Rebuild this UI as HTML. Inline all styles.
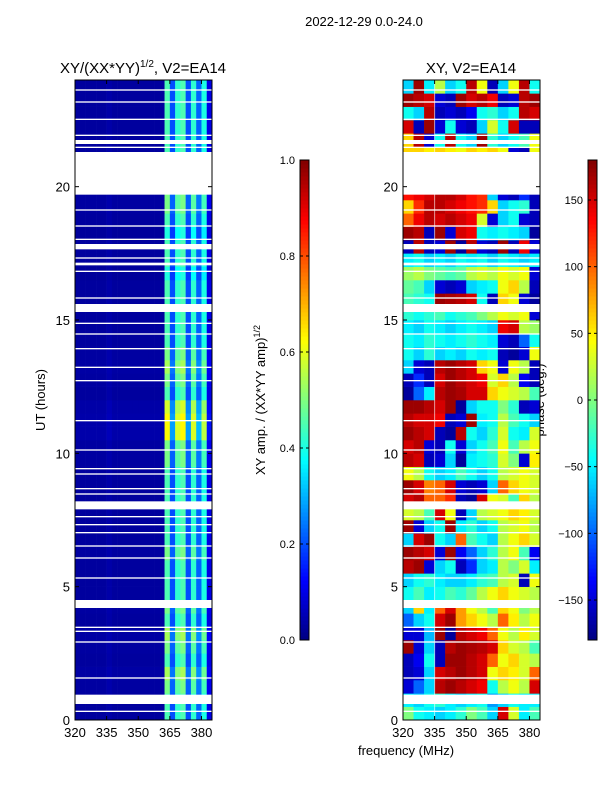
<!DOCTYPE html>
<html><head><meta charset="utf-8"><style>
body{margin:0;background:#fff;font-family:"Liberation Sans",sans-serif}
svg text{font-family:"Liberation Sans",sans-serif;fill:#000}
</style></head><body>
<svg id="s" width="600" height="800" viewBox="0 0 600 800" xmlns="http://www.w3.org/2000/svg">
<text x="364" y="26" font-size="13" text-anchor="middle">2022-12-29 0.0-24.0</text>
<text x="143" y="73" font-size="15" text-anchor="middle">XY/(XX*YY)<tspan font-size="10" dy="-6">1/2</tspan><tspan dy="6">, V2=EA14</tspan></text>
<text x="471" y="73" font-size="15" text-anchor="middle">XY, V2=EA14</text>
<text x="406" y="755" font-size="13" text-anchor="middle">frequency (MHz)</text>
<text transform="translate(45,400) rotate(-90)" font-size="13" text-anchor="middle">UT (hours)</text>
<text transform="translate(265,400) rotate(-90)" font-size="13" text-anchor="middle">XY amp. / (XX*YY amp)<tspan font-size="9" dy="-5">1/2</tspan></text>
<text transform="translate(544,400) rotate(-90)" font-size="13" text-anchor="middle">phase (deg.)</text>
<g id="L"></g>
<g id="R"></g>
<g id="A"></g>
</svg>
<script>
const freqMin=320, freqMax=385, hourMin=0, hourMax=24;
const ampFreqEdges=[320,322.5,325,327.5,330,332.5,335,337.5,340,342.5,345,347.5,350,352.5,355,357.5,360,362.5,365,367.5,370,372.5,375,377.5,380,382.5,385];
const ampProfile=[0.03,0.03,0.03,0.03,0.03,0.03,0.04,0.03,0.03,0.03,0.03,0.03,0.03,0.03,0.03,0.03,0.03,0.45,0.2,0.42,0.45,0.2,0.42,0.22,0.4,0.1];
const ampRowScale=[1,1,1.1,1.2,1,1.1,1.2,1,1.1,1,1,1,1.1,1,1,1,1,1,1,1.1,1.1,1.4,1.4,1.3,1,1.1,1.2,1.1,1,1,1,1,1,0.9,1,1,0.9,1,1.1,1.1,1,1,1,1,1,1,1,1];
const phaseFreqEdges=[320,325,330,335,340,345,350,355,360,365,370,375,380,385];
const phaseRows=[
[0,-40,-50,-60,-50,-30,0,-20,-60,150,30,-50,-20],
[-50,-60,-40,-30,-50,-60,-50,-40,-80,-60,-40,-50,-50],
[-150,-100,-60,160,170,160,150,140,-40,20,40,20,150],
[-160,-150,-60,150,160,170,160,150,40,60,50,30,100],
[-160,-140,-40,-160,170,170,160,150,100,40,60,30,20],
[170,-150,-60,-160,160,170,165,160,150,60,30,20,-20],
[-150,-150,-70,170,-170,160,150,140,100,40,20,50,30],
[-100,-60,-40,150,170,80,60,40,20,100,50,20,40],
[-60,60,-50,100,150,80,40,20,-20,60,40,0,20],
[-40,-20,-50,-40,-20,-30,-10,20,40,60,40,30,20],
[-60,-40,-30,-50,-60,-60,-50,-30,-20,20,30,-160,40],
[160,170,-150,-60,-40,-160,-120,-60,-50,20,0,30,-50],
[170,160,150,-150,170,-140,-100,-60,-30,20,40,-20,-140],
[-60,150,170,-40,-60,100,-20,-40,-60,20,40,60,30],
[170,-150,-60,-40,170,-50,-30,-60,-40,20,30,40,20],
[30,20,-20,150,40,-160,-60,20,30,40,60,50,30],
[150,160,100,100,120,-160,-170,150,40,30,-20,60,20],
[170,150,90,100,150,-150,-160,-150,-60,100,60,40,30],
[40,20,-40,-60,-50,-20,-40,-60,-40,20,30,40,30],
[160,150,-160,-150,-60,-170,-50,-40,-30,30,0,-150,50],
[150,160,-150,-160,-40,-150,-60,-40,-20,40,-20,20,40],
[170,160,150,-160,-170,160,-40,-60,-30,30,-40,-50,30],
[160,150,150,140,-160,-150,170,-50,-40,20,-20,-40,-60],
[170,170,160,150,170,-170,-60,-40,-40,0,-30,-160,-150],
[-170,-100,-50,160,170,165,150,150,60,40,30,20,-20],
[-160,-120,-160,150,170,160,150,140,30,60,20,-140,-160],
[-60,-150,-160,160,170,160,150,60,40,-150,40,20,-160],
[-40,-60,-30,-60,-50,-60,-40,-50,-40,-160,-170,-150,40],
[-40,-50,-30,-40,-50,-40,-30,-40,-50,-150,-160,-100,-40],
[-50,-60,-40,-50,-60,-50,-40,-50,-60,140,150,20,10],
[-30,-40,-30,-20,-40,-30,-20,0,20,40,30,40,-150],
[-20,-30,-40,170,165,160,150,-40,-160,60,40,-150,-170],
[-10,-20,-60,-150,-160,-150,-60,-50,-40,40,60,20,-160],
[10,20,0,-10,-20,-10,20,30,20,40,30,40,-150],
[-50,-40,-60,-50,-60,-40,-50,-40,-60,-40,-50,-60,-50],
[-160,160,-160,-150,170,-170,160,-150,-160,170,-160,140,-150],
[170,160,-160,170,-150,150,140,-40,-50,-40,-50,-60,-170],
[100,140,160,150,160,150,140,30,-150,-60,-40,-150,-160],
[60,120,160,160,150,140,130,120,60,-60,-40,-30,-160],
[130,140,150,160,160,150,130,120,-60,-150,-160,-120,-160],
[0,0,0,0,0,0,0,0,0,0,0,0,0],
[0,0,0,0,0,0,0,0,0,0,0,0,0],
[60,60,50,60,50,40,60,50,60,40,-150,-160,40],
[60,160,-150,-40,160,-40,-60,170,-30,-60,-40,-20,40],
[150,-160,170,-150,-40,-150,-160,-60,30,-40,150,-160,-160],
[-40,-60,160,-160,-150,-160,-140,-40,-30,-60,-40,160,150],
[170,160,150,-150,-160,170,150,160,140,-160,-150,160,170],
[-60,170,-50,20,-60,-40,160,40,-160,-60,40,160,-40]];
const gapStart=[0.3,0.6,1.55,2.9,3.3,3.45,4.2,5.3,6.05,6.5,7.0,7.3,7.6,7.9,8.45,8.65,9.2,9.4,10.1,11.2,12.7,13.2,13.9,14.45,14.85,15.3,15.8,16.8,17.05,17.3,17.65,18.0,18.5,19.1,19.7,21.45,21.6,21.9,22.5,23.15,23.6];
const gapEnd=[0.35,0.95,1.6,2.95,3.35,3.5,4.5,5.35,6.1,6.55,7.05,7.35,7.65,8.2,8.5,8.7,9.25,9.45,10.15,11.25,12.75,13.25,13.95,14.5,14.9,15.6,15.85,16.85,17.15,17.35,17.85,18.05,18.55,19.15,21.3,21.5,21.75,21.95,22.55,23.2,23.65];
const xTicks=[320,335,350,365,380];
const yTicks=[0,5,10,15,20];
const ampTicks=[0,0.2,0.4,0.6,0.8,1.0];
const phaseTicks=[-150,-100,-50,0,50,100,150];

const NS="http://www.w3.org/2000/svg";
const PT=80,PB=720,LX0=75,LX1=212,RX0=403,RX1=540;
function jet(t){t=Math.max(0,Math.min(1,t));
 const c=v=>Math.round(255*Math.max(0,Math.min(1,v)));
 const r=1.5-Math.abs(4*t-3),g=1.5-Math.abs(4*t-2),b=1.5-Math.abs(4*t-1);
 return `rgb(${c(r)},${c(g)},${c(b)})`;}
function yS(h){return PB-(h-hourMin)/(hourMax-hourMin)*(PB-PT);}
function xL(f){return LX0+(f-freqMin)/(freqMax-freqMin)*(LX1-LX0);}
function xR(f){return RX0+(f-freqMin)/(freqMax-freqMin)*(RX1-RX0);}
function mk(p,tag,at){const e=document.createElementNS(NS,tag);for(const k in at)e.setAttribute(k,at[k]);p.appendChild(e);return e;}
const L=document.getElementById('L'),R=document.getElementById('R'),A=document.getElementById('A');
const nRows=phaseRows.length,dh=(hourMax-hourMin)/nRows;
for(let r=0;r<nRows;r++){
 const y0=yS(hourMin+(r+1)*dh),y1=yS(hourMin+r*dh);
 for(let i=0;i<ampProfile.length;i++){
  const x0=xL(ampFreqEdges[i]),x1=xL(ampFreqEdges[i+1]);
  const e=mk(L,'rect',{x:x0,y:y0,width:x1-x0+0.3,height:y1-y0+0.3,fill:jet(ampProfile[i]*ampRowScale[r])});
  
  
 }
 for(let i=0;i<phaseRows[r].length;i++){
  const x0=xR(phaseFreqEdges[i]),x1=xR(phaseFreqEdges[i+1]);
  const e=mk(R,'rect',{x:x0,y:y0,width:x1-x0+0.3,height:y1-y0+0.3,fill:jet((phaseRows[r][i]+180)/360)});
  
  
 }
}
for(let g=0;g<gapStart.length;g++){
 for(const [x0,x1] of [[LX0,LX1],[RX0,RX1]]){
  const e=mk(A,'rect',{x:x0,y:yS(gapEnd[g]),width:x1-x0,height:yS(gapStart[g])-yS(gapEnd[g]),fill:'#fff'});
  
  
 }
}
mk(A,'line',{x1:xR(335),y1:PT,x2:xR(335),y2:PB,stroke:'#fff','stroke-opacity':0.6,'stroke-width':1});
for(const [x0,x1] of [[LX0,LX1],[RX0,RX1]]){
 const f=mk(A,'rect',{x:x0,y:PT,width:x1-x0,height:PB-PT,fill:'none',stroke:'#000','stroke-width':1});
 
 
 const xs=x0===LX0?xL:xR;
 for(const t of xTicks){const x=xs(t);
  mk(A,'line',{x1:x,y1:PB,x2:x,y2:PB-4,stroke:'#000'});mk(A,'line',{x1:x,y1:PT,x2:x,y2:PT+4,stroke:'#000'});
  const tx=mk(A,'text',{x:x,y:PB+17,'font-size':13,'text-anchor':'middle'});tx.textContent=t;
  
  }
 for(const t of yTicks){const y=yS(t);
  mk(A,'line',{x1:x0,y1:y,x2:x0+4,y2:y,stroke:'#000'});mk(A,'line',{x1:x1,y1:y,x2:x1-4,y2:y,stroke:'#000'});
  const tx=mk(A,'text',{x:x0-5,y:y+5,'font-size':13,'text-anchor':'end'});tx.textContent=t;
  
  }
}
function cbar(x,lo,hi,ticks,fmt,name){
 const g=mk(A,'g',{});
 
 
 const n=120,top=160,bot=640;
 for(let i=0;i<n;i++){mk(g,'rect',{x:x,y:bot-(i+1)*(bot-top)/n,width:9,height:(bot-top)/n+0.5,fill:jet((i+0.5)/n)});}
 mk(g,'rect',{x:x,y:top,width:9,height:bot-top,fill:'none',stroke:'#000'});
 for(const t of ticks){const y=bot-(t-lo)/(hi-lo)*(bot-top);
  mk(g,'line',{x1:x,y1:y,x2:x+3,y2:y,stroke:'#000'});mk(g,'line',{x1:x+9,y1:y,x2:x+6,y2:y,stroke:'#000'});
  const tx=mk(g,'text',{x:x-5,y:y+4,'font-size':11,'text-anchor':'end'});tx.textContent=fmt(t);
  
  }
}
cbar(300,0,1,ampTicks,t=>t.toFixed(1),'amplitude-colorbar');
cbar(588,-180,180,phaseTicks,t=>t<0?'\u2212'+(-t):String(t),'phase-colorbar');
</script>
</body></html>
